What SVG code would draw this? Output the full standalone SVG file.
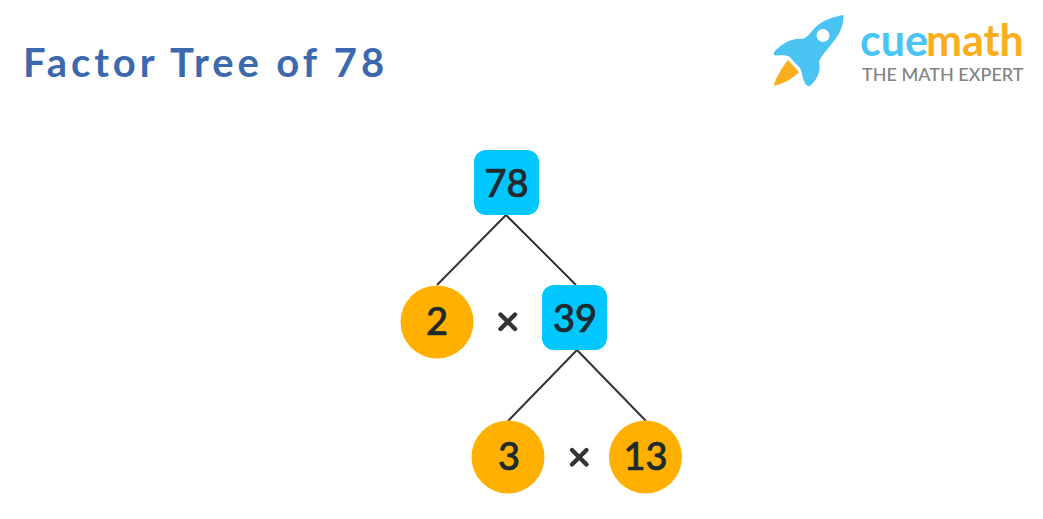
<svg xmlns="http://www.w3.org/2000/svg" width="1043" height="519" viewBox="0 0 1043 519">
<style>
.n{font-family:"Lato","Noto Sans",sans-serif;font-size:38px;font-weight:500;text-anchor:middle;fill:#1f2a2e;stroke:#1f2a2e;stroke-width:.7}
.sq{fill:#00c8ff}
.ci{fill:#ffb000}
.c{stroke:#333;stroke-width:2;fill:none}
.x{stroke:#333;stroke-width:4.400;stroke-linecap:round;fill:none}
</style>
<rect width="1043" height="519" fill="#fff"/>
<text id="title" x="23" y="77" font-family="Lato,sans-serif" font-size="40" font-weight="700" letter-spacing="3.900" fill="#3c69ae">Factor Tree of 78</text>
<g id="logo">
<path d="M843.500 15C832 17 820 21 812 31C808 36 806 38 802 39C794 38 785 42 778 48C774 51 772 55 776 55.500C783 55 787 55 790 57C793 61 797 65 800 68C802 72 802 77 804 81C806 86 809 88 812 84C818 78 821 70 819 62C821 56 826 51 830 46C838 37 844 27 843.500 15Z" fill="#4ac4f3"/>
<circle cx="823" cy="35.500" r="6.500" fill="#fff"/>
<path d="M788 60C782 67 776 78 773.500 86C782 84 793 79 799 72Z" fill="#fbae1d"/>
<text x="860" y="56" font-family="Lato,sans-serif" font-size="43" font-weight="700" fill="#4ac4f3">cue</text>
<text x="926" y="56" font-family="Lato,sans-serif" font-size="43" font-weight="700" fill="#fbae1d">math</text>
<text x="862" y="81" font-family="Lato,sans-serif" font-size="18" font-weight="500" letter-spacing="0.020" fill="#808285">THE MATH EXPERT</text>
</g>
<g id="connectors">
<path class="c" d="M437 285L506 215L576 285"/>
<path class="c" d="M508 421L577 350L646 421"/>
</g>
<g id="n78"><rect class="sq" x="474" y="150" width="65" height="65" rx="12"/><text class="n" x="506.500" y="197">78</text></g>
<g id="n2"><circle class="ci" cx="437" cy="322" r="36.500"/><text class="n" x="437" y="335">2</text></g>
<g id="times1"><path class="x" d="M500.500 314.500L515 329M515 314.500L500.500 329"/></g>
<g id="n39"><rect class="sq" x="542" y="285" width="65" height="65" rx="12"/><text class="n" x="575" y="332">39</text></g>
<g id="n3"><circle class="ci" cx="508" cy="457" r="36.500"/><text class="n" x="509" y="470">3</text></g>
<g id="times2"><path class="x" d="M572 450L586.500 464.500M586.500 450L572 464.500"/></g>
<g id="n13"><circle class="ci" cx="645.500" cy="457" r="36.500"/><text class="n" x="645.500" y="470">13</text></g>
</svg>
